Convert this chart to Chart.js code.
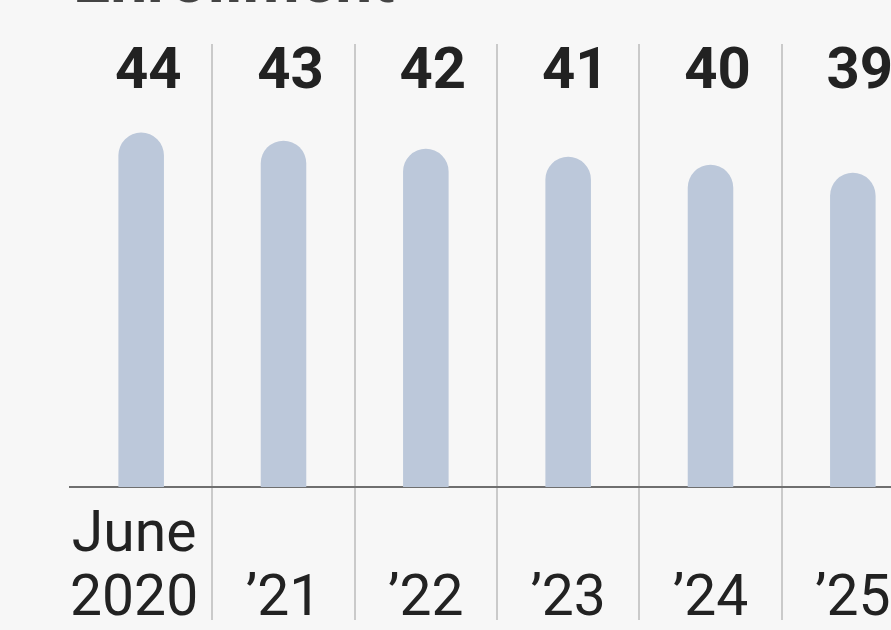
<!DOCTYPE html>
<html>
<head>
<meta charset="utf-8">
<script src="https://cdn.jsdelivr.net/npm/chart.js@4"></script>
<style>
  html, body { margin: 0; padding: 0; background: #f7f7f7; overflow: hidden; }
  #wrap { position: absolute; left: 0; top: 0; width: 930px; height: 630px; }
</style>
</head>
<body>
<div id="wrap"><canvas id="enrollChart"></canvas></div>
<script>
const years = [['June ', '2020 '], '\u201921', '\u201922', '\u201923', '\u201924', '\u201925'];
const enrollment = [44, 43, 42, 41, 40, 39];
const headline = 'Enrollment';

// headline sits above the chart, mostly off the top edge
const headlinePlugin = {
  id: 'headline',
  afterDraw(chart) {
    const ctx = chart.ctx;
    ctx.save();
    ctx.font = 'bold 66px Roboto';
    ctx.fillStyle = '#444';
    ctx.textAlign = 'left';
    ctx.textBaseline = 'alphabetic';
    ctx.fillText(headline, 73, 2);
    ctx.restore();
  }
};

// big bold value above each column
const valueLabels = {
  id: 'valueLabels',
  afterDatasetsDraw(chart) {
    const ctx = chart.ctx;
    const top = chart.chartArea.top;
    ctx.save();
    ctx.font = 'bold 58px Roboto';
    ctx.fillStyle = '#222';
    ctx.textAlign = 'center';
    ctx.textBaseline = 'alphabetic';
    chart.getDatasetMeta(0).data.forEach((bar, i) => {
      ctx.fillText(String(enrollment[i]), bar.x + 7, top + 44);
    });
    ctx.restore();
  }
};

new Chart(enrollChart, {
  type: 'bar',
  data: {
    labels: years,
    datasets: [{
      data: enrollment,
      backgroundColor: '#bcc8da',
      barPercentage: 0.32,
      categoryPercentage: 1,
      borderSkipped: 'bottom',
      borderRadius: { topLeft: 23, topRight: 23, bottomLeft: 0, bottomRight: 0 }
    }]
  },
  options: {
    responsive: true,
    maintainAspectRatio: false,
    animation: false,
    layout: { padding: { left: 70, right: 6, top: 44, bottom: 0 } },
    plugins: {
      legend: { display: false },
      tooltip: { enabled: false }
    },
    scales: {
      x: {
        offset: true,
        afterFit(scale) { scale.height = 143; },
        grid: {
          offset: true,
          color: ctx => ctx.index === 0 ? 'rgba(0,0,0,0)' : '#cacaca',
          lineWidth: 2,
          tickLength: 133
        },
        border: { color: '#6f6f6f', width: 2 },
        ticks: {
          color: '#222',
          padding: -83,
          crossAlign: 'far',
          maxRotation: 0,
          autoSkip: false,
          font: { family: 'Roboto', size: 57, weight: 400, lineHeight: 1.123 }
        }
      },
      y: {
        display: false,
        min: 0,
        max: 55
      }
    }
  },
  plugins: [headlinePlugin, valueLabels]
});
</script>
</body>
</html>
